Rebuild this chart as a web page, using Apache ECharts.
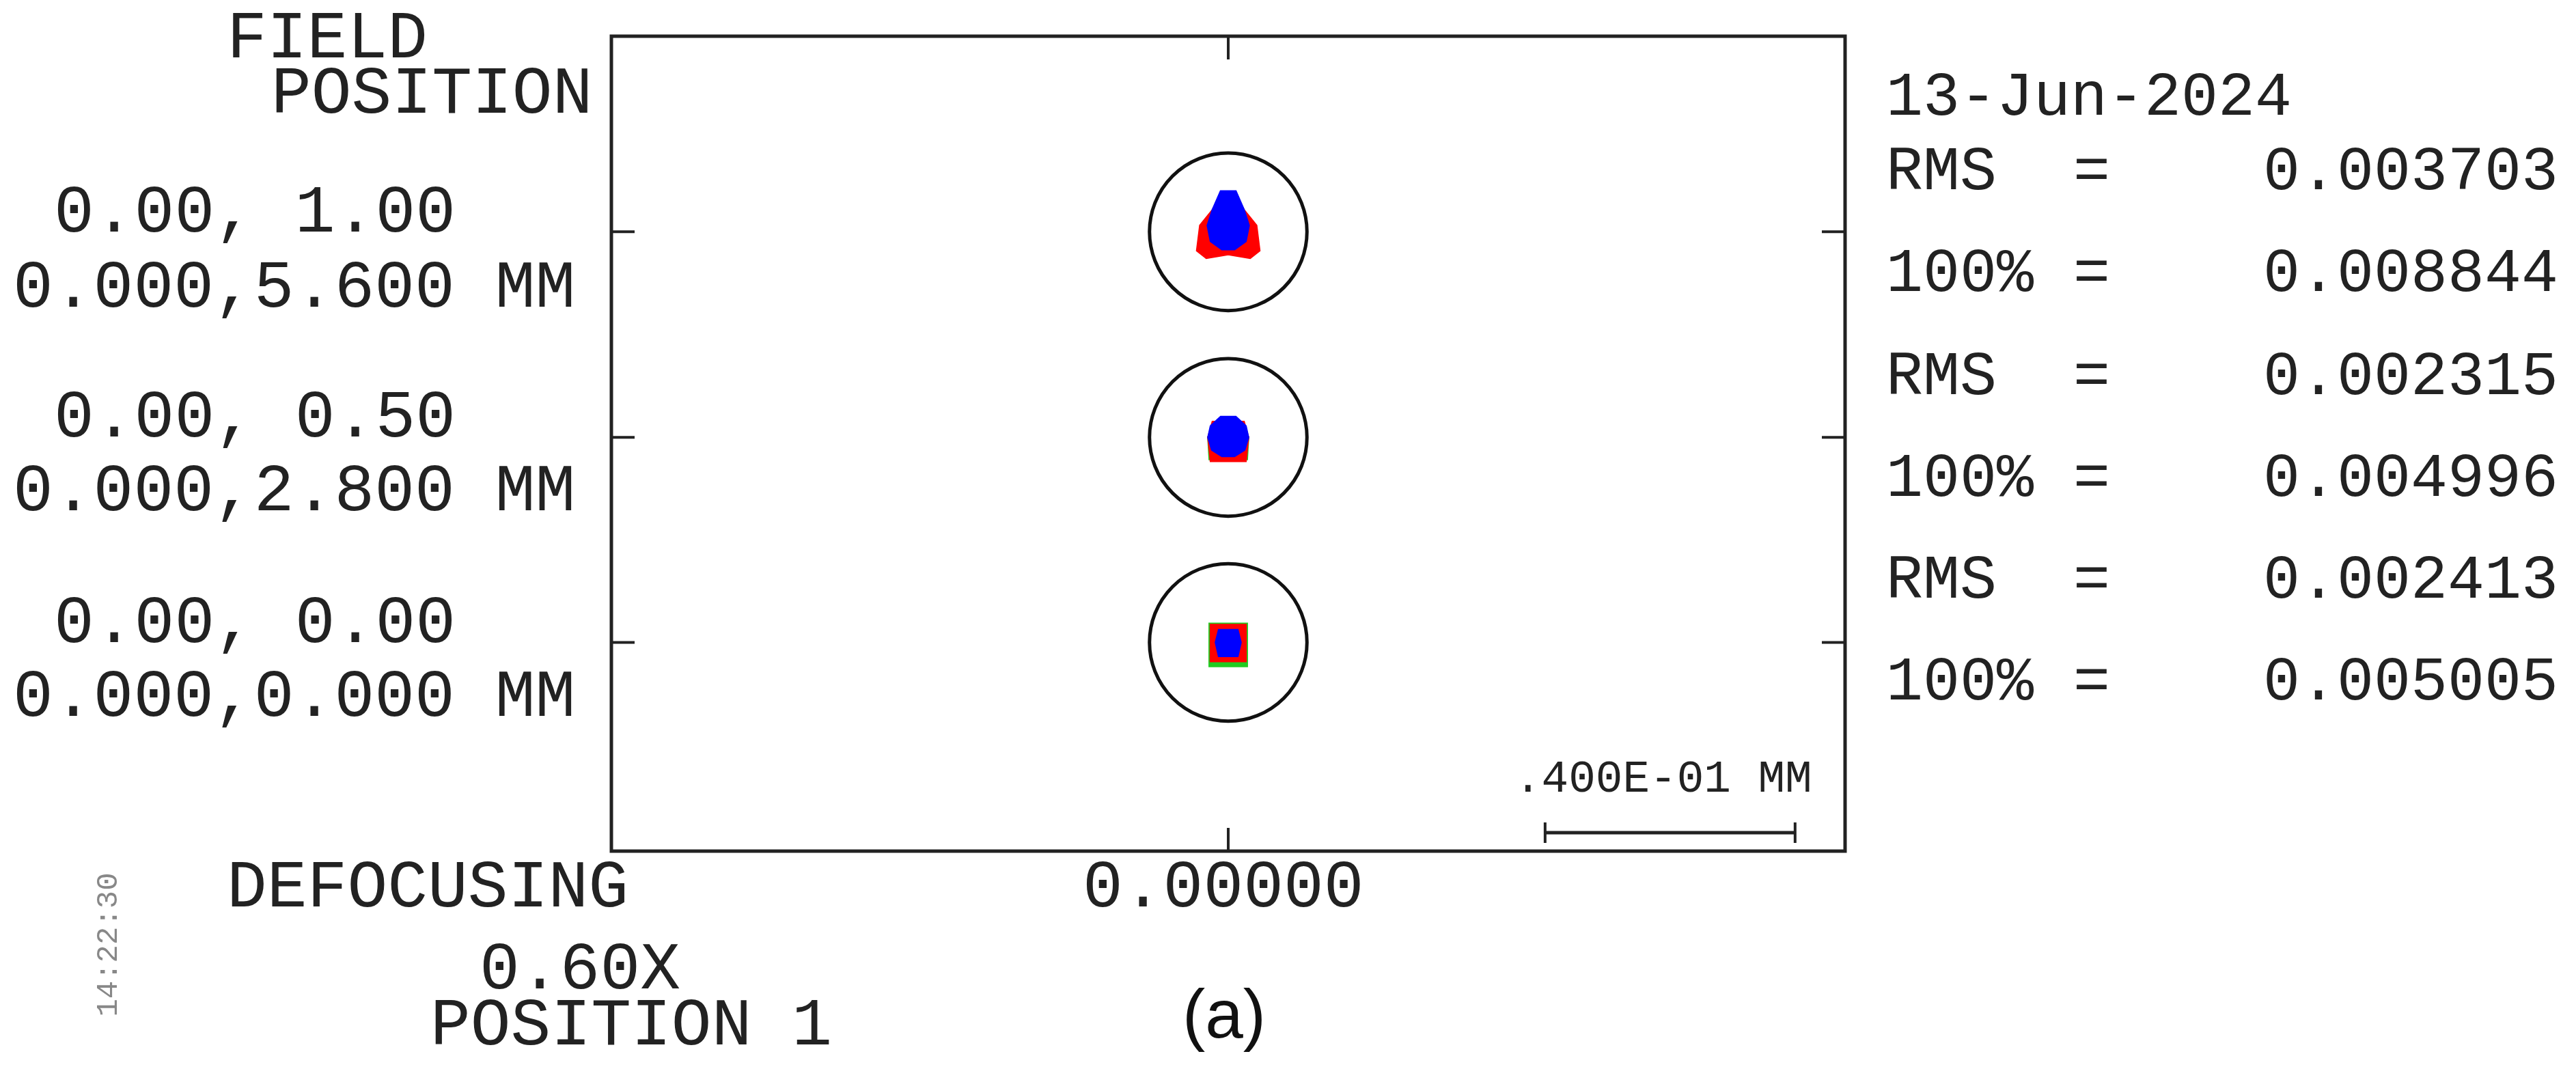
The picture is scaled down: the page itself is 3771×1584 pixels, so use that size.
<!DOCTYPE html>
<html><head><meta charset="utf-8">
<script src="https://cdn.jsdelivr.net/npm/echarts@6/dist/echarts.min.js"></script>
<style>html,body{margin:0;padding:0;background:#fff}#c{width:3771px;height:1584px}</style>
</head><body><div id="c"></div>
<script>
// field centres (micrometres on the image plane, plot coordinates)
const fieldCenters = [99.1, 66.2, 33.4];
const fieldLabels = [["0.00, 1.00","0.000,5.600 MM"],["0.00, 0.50","0.000,2.800 MM"],["0.00, 0.00","0.000,0.000 MM"]];
const rmsValues = ["0.003703","0.002315","0.002413"];
const geoValues = ["0.008844","0.004996","0.005005"];
const airyRadius = 12.6; // µm
const scaleBar = {x0: 50.7, len: 40, y: 2.95, label: ".400E-01 MM"};
// spot outlines (µm offsets from field centre) per wavelength
const spotRed = [
  [[-1,6],[1,6],[2.5,3.5],[4.5,1],[5,-3],[3.5,-4.2],[0,-3.6],[-3.5,-4.2],[-5,-3],[-4.5,1],[-2.5,3.5]],
  [[-2.8,-3.8],[2.8,-3.8],[3.2,0],[2.5,2.5],[-2.5,2.5],[-3.2,0]],
  [[-2.8,-3],[2.8,-3],[2.8,2.8],[-2.8,2.8]]
];
const spotGreen = [
  [[-2,-3],[2,-3],[2.5,2],[-2.5,2]],
  [[-3,-3.5],[3,-3.5],[3.2,0],[-3.2,0]],
  [[-3,-3.8],[3,-3.8],[3,3],[-3,3]]
];
const spotBlue = [
  [[-1.2,6.5],[1.2,6.5],[2.5,3.5],[3.3,1],[2.8,-1.5],[1,-2.8],[-1,-2.8],[-2.8,-1.5],[-3.3,1],[-2.5,3.5]],
  [[-1.2,3.3],[1.2,3.3],[2.8,1.8],[3.2,0],[2.6,-2],[1,-3],[-1,-3],[-2.6,-2],[-3.2,0],[-2.8,1.8]],
  [[-1.5,2],[1.5,2],[2,0],[1.5,-2.2],[-1.5,-2.2],[-2,0]]
];

const chart = echarts.init(document.getElementById('c'));
const mono = '"Liberation Mono", "DejaVu Sans Mono", monospace';
function spotSeries(shapes, color){
  return {type:'custom', data: fieldCenters.map((c,i)=>[i,c]), silent:true,
    renderItem:(p,api)=>{ const i=api.value(0), cy=api.value(1);
      return {type:'polygon', shape:{points: shapes[i].map(d=>api.coord([d[0], cy+d[1]]))}, style:{fill:color, stroke:color, lineWidth:3}}; }};
}
const texts = [];
function T(x,y,t,size,opt){ texts.push(Object.assign({type:'text', x, y, style:{text:t, font:size+'px '+mono, fill:'#222', verticalAlign:'middle', align:'left'}}, opt||{})); }
T(332,58,'FIELD',98); T(397,139,'POSITION',98);
const labY = [[313,423],[613,721],[914,1022]];
fieldLabels.forEach((l,i)=>{ T(79,labY[i][0],l[0],98); T(19,labY[i][1],l[1],98); });
T(332,1301,'DEFOCUSING',98); T(1585,1301,'0.00000',98);
T(702,1421,'0.60X',98); T(630,1503,'POSITION 1',98);
T(2761,144,'13-Jun-2024',90);
const rY = [[253,402],[553,702],[851,1000]];
rmsValues.forEach((v,i)=>{
  T(2761,rY[i][0],'RMS',90); T(3035,rY[i][0],'=',90); T(3745,rY[i][0],v,90); 
  T(2761,rY[i][1],'100%',90); T(3035,rY[i][1],'=',90); T(3745,rY[i][1],geoValues[i],90);
  texts[texts.length-4].style.align='right'; texts[texts.length-1].style.align='right';
});
T(2217,1142,scaleBar.label,66);
texts.push({type:'text', x:1792, y:1491, style:{text:'(a)', font:'100px "Liberation Sans", Arial', fill:'#111', align:'center', verticalAlign:'middle'}});
texts.push({type:'text', x:159, y:1383, rotation:Math.PI/2, style:{text:'14:22:30', font:'44px '+mono, fill:'#888', align:'center', verticalAlign:'middle'}});

chart.setOption({
  animation:false,
  grid:{left:895, right:3771-2701, top:53, bottom:1584-1246, show:true, borderColor:'#222', borderWidth:5, backgroundColor:'transparent'},
  xAxis:{type:'value', min:-98.7, max:98.7, show:false},
  yAxis:{type:'value', min:0, max:130.4, show:false},
  graphic: texts,
  series:[
    {type:'custom', data: fieldCenters.map(c=>[0,c]), silent:true,
      renderItem:(p,api)=>{ const c=api.coord([0,api.value(1)]); const r=api.size([airyRadius,0])[0];
        const L=34, x0=api.coord([-98.7,0])[0], x1=api.coord([98.7,0])[0];
        return {type:'group', children:[
          {type:'circle', shape:{cx:c[0],cy:c[1],r}, style:{fill:'none', stroke:'#111', lineWidth:5}},
          {type:'line', shape:{x1:x0,y1:c[1],x2:x0+L,y2:c[1]}, style:{stroke:'#222', lineWidth:4}},
          {type:'line', shape:{x1:x1,y1:c[1],x2:x1-L,y2:c[1]}, style:{stroke:'#222', lineWidth:4}}
        ]}; }},
    {type:'custom', data:[[0]], silent:true,
      renderItem:(p,api)=>{ const t=api.coord([0,130.4]), b=api.coord([0,0]);
        return {type:'group', children:[
          {type:'line', shape:{x1:t[0],y1:t[1],x2:t[0],y2:t[1]+34}, style:{stroke:'#222', lineWidth:4}},
          {type:'line', shape:{x1:b[0],y1:b[1],x2:b[0],y2:b[1]-34}, style:{stroke:'#222', lineWidth:4}}]}; }},
    spotSeries(spotGreen,'#22cc22'),
    spotSeries(spotRed,'#ff0000'),
    spotSeries(spotBlue,'#0000ff'),
    {type:'custom', data:[[scaleBar.x0, scaleBar.y]], silent:true,
      renderItem:(p,api)=>{ const a=api.coord([api.value(0),api.value(1)]), b=api.coord([api.value(0)+scaleBar.len,api.value(1)]);
        return {type:'group', children:[
          {type:'line', shape:{x1:a[0],y1:a[1],x2:b[0],y2:b[1]}, style:{stroke:'#222', lineWidth:5}},
          {type:'line', shape:{x1:a[0],y1:a[1]-15,x2:a[0],y2:a[1]+15}, style:{stroke:'#222', lineWidth:4}},
          {type:'line', shape:{x1:b[0],y1:b[1]-15,x2:b[0],y2:b[1]+15}, style:{stroke:'#222', lineWidth:4}}]}; }}
  ]
});
</script></body></html>
